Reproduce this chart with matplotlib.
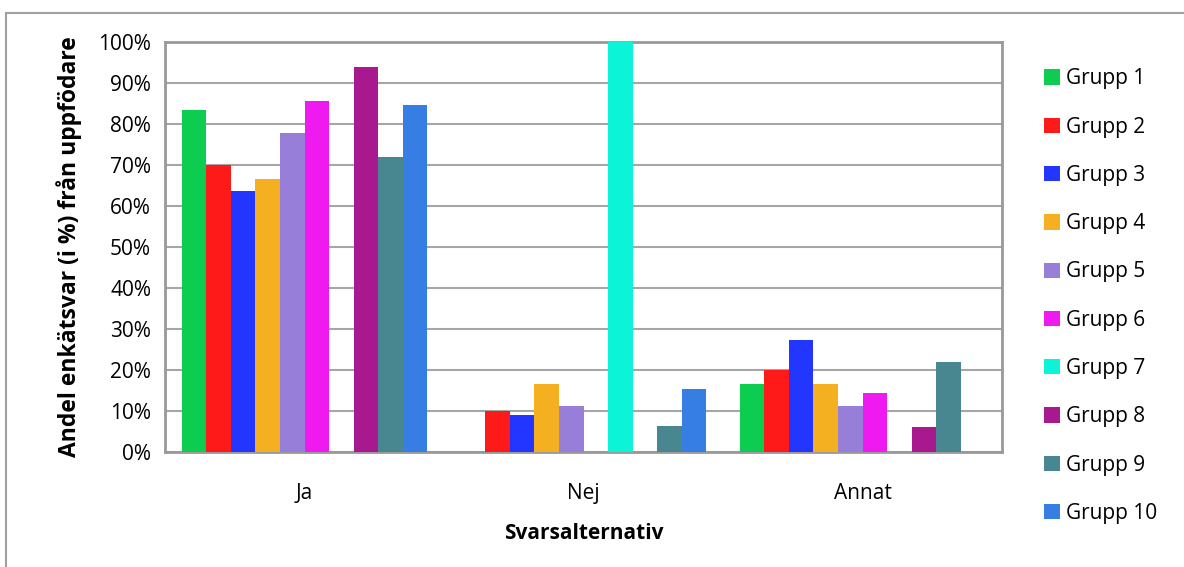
import numpy as np
import matplotlib
matplotlib.use("Agg")
import matplotlib.pyplot as plt
from matplotlib.patches import Rectangle, Patch

# Data (andel i %)
kategorier = ["Ja", "Nej", "Annat"]
grupper = [f"Grupp {i}" for i in range(1, 11)]
ja = [83.3, 70.0, 63.6, 66.7, 77.8, 85.7, 0, 94.0, 71.9, 84.6]
nej = [0, 10.0, 9.1, 16.7, 11.1, 0, 100.0, 0, 6.25, 15.4]
annat = [16.7, 20.0, 27.3, 16.7, 11.1, 14.3, 0, 6.0, 22.0, 0]
farger = ["#0ccd50", "#ff1a1a", "#2236ff", "#f5b022", "#977ed9",
          "#ee1aef", "#0bf4d8", "#a8198f", "#488790", "#367ee3"]

plt.rcParams['font.family'] = ['Open Sans', 'DejaVu Sans']

fig = plt.figure(figsize=(11.84, 5.67), dpi=100)
ax = fig.add_axes([165 / 1184, 1 - 452 / 567, (1002 - 165) / 1184, (452 - 42) / 567])

varden = np.array([ja, nej, annat])  # rader = kategorier
x = np.arange(len(kategorier))
bredd = 0.088
for i, (namn, farg) in enumerate(zip(grupper, farger)):
    offset = (i - 4.5) * bredd
    ax.bar(x + offset, varden[:, i], width=bredd, color=farg, label=namn, zorder=3)

ax.set_xlim(-0.5, 2.5)
ax.set_ylim(0, 100)
ax.set_yticks(np.arange(0, 101, 10))
ax.set_yticklabels([f"{v}%" for v in range(0, 101, 10)])
ax.set_xticks(x)
ax.set_xticklabels(kategorier)
ax.tick_params(axis='both', labelsize=15, length=0, pad=10)
ax.tick_params(axis='x', pad=22)
ax.grid(axis='y', color='#a6a6a6', linewidth=1.5, zorder=0)
for s in ax.spines.values():
    s.set_color('#999999')
    s.set_linewidth(2)

ax.set_ylabel("Andel enkätsvar (i %) från uppfödare", fontsize=16.5, fontweight='bold', labelpad=12)
ax.set_xlabel("Svarsalternativ", fontsize=15, fontweight='bold', labelpad=14)

handles = [Patch(facecolor=f, edgecolor='none') for f in farger]
fig.legend(handles, grupper, loc='upper left', bbox_to_anchor=(1036 / 1184, 1 - 60 / 567),
           frameon=False, fontsize=15, handlelength=0.75, handleheight=0.75,
           handletextpad=0.3, labelspacing=1.31, borderaxespad=0)

# ram runt diagrammet
fig.patches.append(Rectangle((6 / 1184, -0.2), 1.2, 1.2 - 13 / 567, transform=fig.transFigure,
                             fill=False, edgecolor='#a0a0a0', linewidth=1.5))

fig.savefig("out.png", dpi=100)
